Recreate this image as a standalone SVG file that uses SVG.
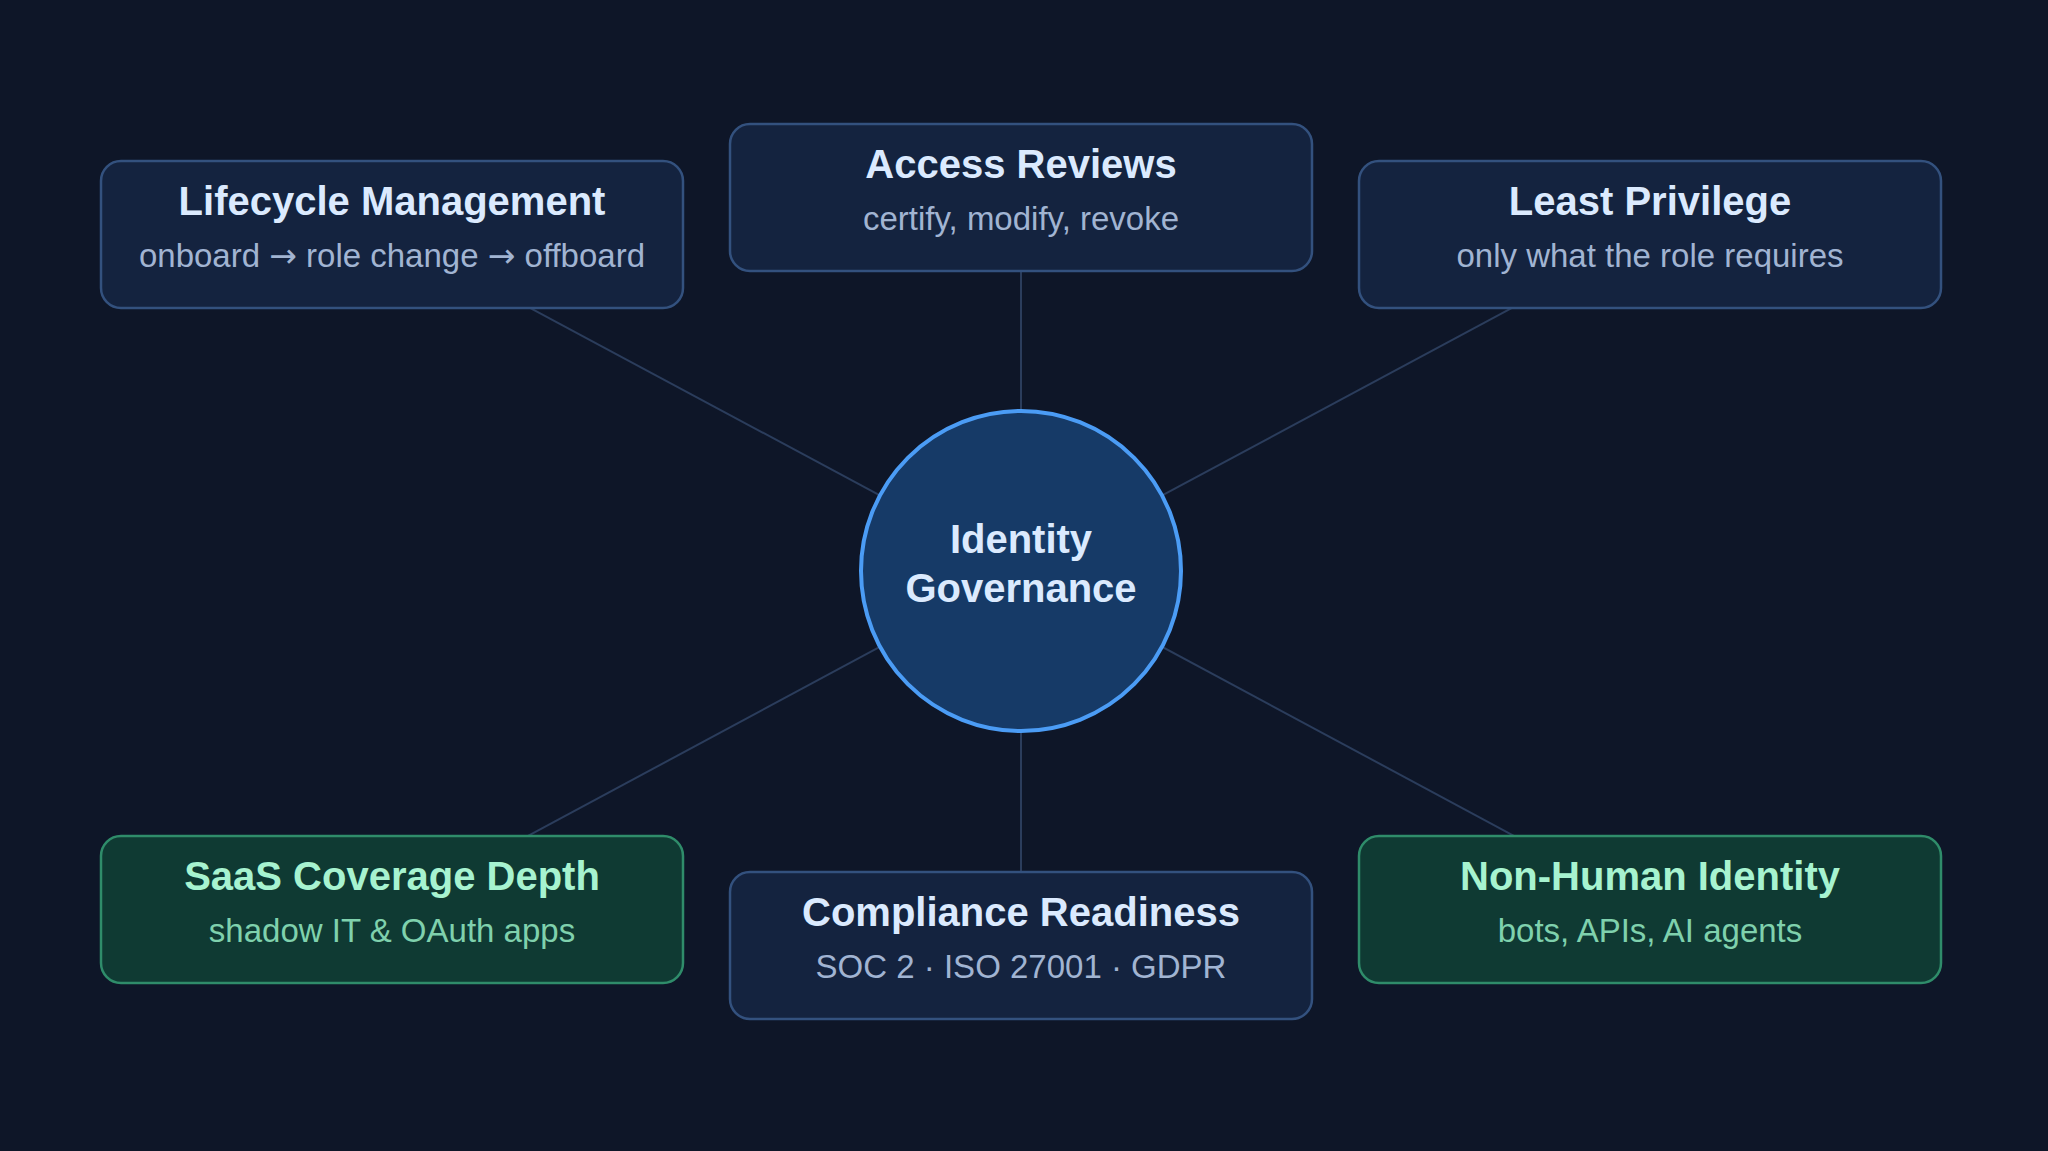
<svg xmlns="http://www.w3.org/2000/svg" width="2048" height="1151" viewBox="0 0 2048 1151">
<style>
.bg{fill:#0e1628}
.box{fill:#14233f;stroke:#33517e;stroke-width:2.5}
.gbox{fill:#0f3a33;stroke:#2f8c6a;stroke-width:2.5}
.t{font-family:"Liberation Sans",Arial,sans-serif;font-weight:bold;font-size:40px;text-anchor:middle;fill:#dbeafe}
.s{font-family:"Liberation Sans",Arial,sans-serif;font-size:33px;text-anchor:middle;fill:#a1b4d2}
.ar{font-family:"DejaVu Sans",sans-serif}
.gt{fill:#a7f3d0}
.gs{fill:#7fd1ad}
.ln{stroke:#2b3d5c;stroke-width:2;fill:none}
.hub{fill:#163a67;stroke:#4b9cf5;stroke-width:4}
</style>
<rect class="bg" x="0" y="0" width="2048" height="1151"/>
<g id="connectors">
<line class="ln" x1="1021" y1="571" x2="392" y2="234"/>
<line class="ln" x1="1021" y1="571" x2="1021" y2="197"/>
<line class="ln" x1="1021" y1="571" x2="1650" y2="234"/>
<line class="ln" x1="1021" y1="571" x2="392" y2="909"/>
<line class="ln" x1="1021" y1="571" x2="1021" y2="946"/>
<line class="ln" x1="1021" y1="571" x2="1650" y2="909"/>
</g>
<g id="lifecycle">
<rect class="box" x="101" y="161" width="582" height="147" rx="20"/>
<text class="t" x="392" y="215">Lifecycle Management</text>
<text class="s" x="392" y="267">onboard <tspan class="ar">→</tspan> role change <tspan class="ar">→</tspan> offboard</text>
</g>
<g id="access-reviews">
<rect class="box" x="730" y="124" width="582" height="147" rx="20"/>
<text class="t" x="1021" y="178">Access Reviews</text>
<text class="s" x="1021" y="230">certify, modify, revoke</text>
</g>
<g id="least-privilege">
<rect class="box" x="1359" y="161" width="582" height="147" rx="20"/>
<text class="t" x="1650" y="215">Least Privilege</text>
<text class="s" x="1650" y="267">only what the role requires</text>
</g>
<g id="saas-coverage">
<rect class="gbox" x="101" y="836" width="582" height="147" rx="20"/>
<text class="t gt" x="392" y="890">SaaS Coverage Depth</text>
<text class="s gs" x="392" y="942">shadow IT &amp; OAuth apps</text>
</g>
<g id="compliance">
<rect class="box" x="730" y="872" width="582" height="147" rx="20"/>
<text class="t" x="1021" y="926">Compliance Readiness</text>
<text class="s" x="1021" y="978">SOC 2 · ISO 27001 · GDPR</text>
</g>
<g id="non-human">
<rect class="gbox" x="1359" y="836" width="582" height="147" rx="20"/>
<text class="t gt" x="1650" y="890">Non-Human Identity</text>
<text class="s gs" x="1650" y="942">bots, APIs, AI agents</text>
</g>
<g id="hub">
<circle class="hub" cx="1021" cy="571" r="160"/>
<text class="t" x="1021" y="553">Identity</text>
<text class="t" x="1021" y="602">Governance</text>
</g>
</svg>
